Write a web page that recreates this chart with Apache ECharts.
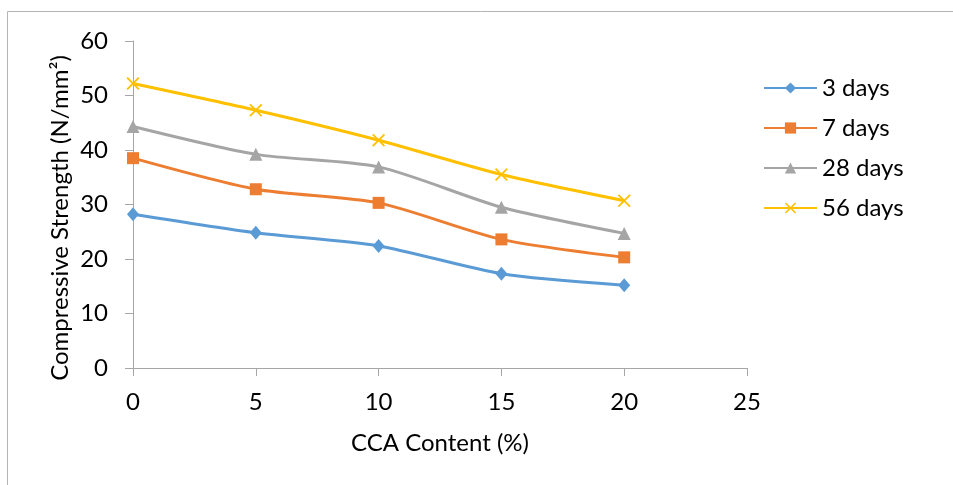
<!DOCTYPE html>
<html><head><meta charset="utf-8">
<script src="https://cdn.jsdelivr.net/npm/echarts@6/dist/echarts.min.js"></script>
<style>html,body{margin:0;padding:0;background:#fff}#c{width:953px;height:485px}</style>
</head><body><div id="c"></div>
<script>
const xValues = [0, 5, 10, 15, 20];
const seriesNames = ['3 days', '7 days', '28 days', '56 days'];
const days3 = [28.2, 24.8, 22.4, 17.3, 15.2];
const days7 = [38.5, 32.8, 30.3, 23.6, 20.3];
const days28 = [44.3, 39.2, 36.9, 29.5, 24.7];
const days56 = [52.2, 47.3, 41.8, 35.5, 30.7];
const xTicks = [0, 5, 10, 15, 20, 25];
const yTicks = [0, 10, 20, 30, 40, 50, 60];

const FONT = 'Lato';
const FS = 24;
const colors = ['#5B9BD5', '#ED7D31', '#A5A5A5', '#FFC000'];
const symbols = ['diamond', 'rect', 'triangle',
  'path://M0,1L1,0L10,9L9,10Z M9,0L10,1L1,10L0,9Z'];
const sizes = [[12, 14], 12, 13, 13];
const allData = [days3, days7, days28, days56];

const chart = echarts.init(document.getElementById('c'));
chart.setOption({
  animation: false,
  textStyle: { fontFamily: FONT },
  graphic: [
    { type: 'rect', shape: { x: 7.5, y: 11.5, width: 1000, height: 1000 },
      style: { fill: 'none', stroke: '#b4b4b4', lineWidth: 1 }, silent: true },
    { type: 'text', x: 60, y: 218, rotation: Math.PI / 2,
      style: { text: 'Compressive Strength (N/mm²)', font: FS + 'px ' + FONT, fill: '#000',
        align: 'center', verticalAlign: 'middle' } }
  ],
  grid: { left: 133, right: 206, top: 41, bottom: 117, containLabel: false },
  legend: {
    orient: 'vertical', left: 763, top: 76, padding: 0, itemGap: 16, itemWidth: 53, itemHeight: 14,
    data: seriesNames,
    textStyle: { fontSize: FS, color: '#000', fontFamily: FONT }
  },
  xAxis: {
    type: 'value', min: xTicks[0], max: xTicks[xTicks.length - 1], interval: 5,
    name: 'CCA Content (%)', nameLocation: 'middle', nameGap: 63,
    nameTextStyle: { fontSize: FS, color: '#000', fontFamily: FONT },
    axisLine: { show: true, lineStyle: { color: '#a6a6a6', width: 1 } },
    axisTick: { show: true, length: 8, lineStyle: { color: '#a6a6a6' } },
    axisLabel: { fontSize: FS, color: '#000', margin: 22, fontFamily: FONT },
    splitLine: { show: false }
  },
  yAxis: {
    type: 'value', min: yTicks[0], max: yTicks[yTicks.length - 1], interval: 10,
    axisLine: { show: true, lineStyle: { color: '#a6a6a6', width: 1 } },
    axisTick: { show: true, length: 8, lineStyle: { color: '#a6a6a6' } },
    axisLabel: { fontSize: FS, color: '#000', margin: 25, fontFamily: FONT },
    splitLine: { show: false }
  },
  series: allData.map((d, i) => ({
    name: seriesNames[i], type: 'line', smooth: 0.25,
    data: xValues.map((x, j) => [x, d[j]]),
    symbol: symbols[i], symbolSize: sizes[i], showSymbol: true,
    lineStyle: { color: colors[i], width: 3 },
    itemStyle: { color: colors[i], borderWidth: 0 }
  }))
});
</script></body></html>
